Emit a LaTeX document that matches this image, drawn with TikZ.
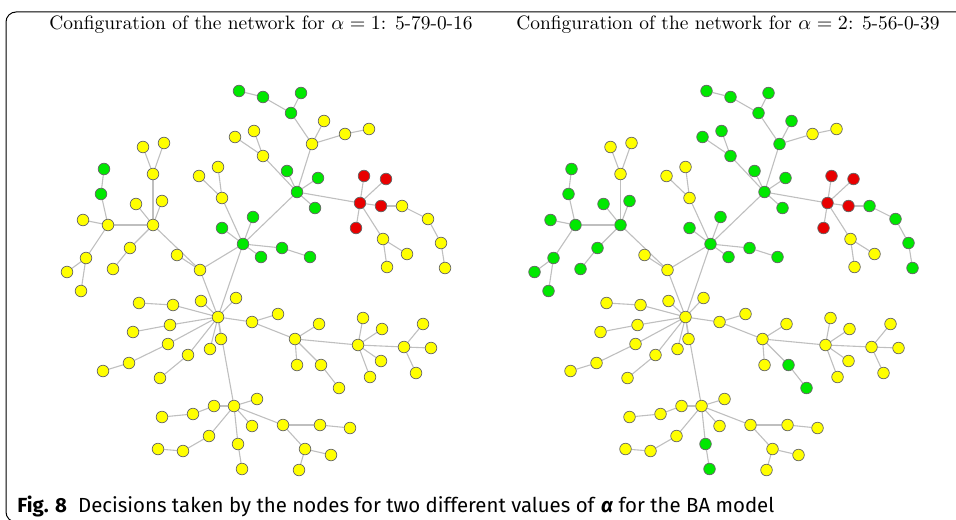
\documentclass[tikz,border=0pt]{standalone}
\usepackage{fontspec}
\newfontfamily\capfont{Fira Sans}
\usetikzlibrary{backgrounds}
\definecolor{cY}{RGB}{255,255,0}
\definecolor{cG}{RGB}{0,232,0}
\definecolor{cR}{RGB}{232,0,0}
\tikzset{
  vtx/.style={circle, draw=black!60, line width=0.35pt, minimum size=5.8pt, inner sep=0pt},
  link/.style={draw=black!25, line width=0.55pt},
  ttl/.style={font=\fontsize{9.7}{11}\selectfont, inner sep=0pt}
}
\begin{document}
\begin{tikzpicture}[x=0.5pt,y=-0.5pt]
\useasboundingbox (0,0) rectangle (956,519);
\draw[line width=0.5pt, rounded corners=5pt] (960,12) -- (6,12) -- (6,522) -- (24,522);
\node[ttl] (ttlA) at (261,25) {Configuration of the network for $\alpha=1$: 5-79-0-16};
\node[ttl] (ttlB) at (728,25) {Configuration of the network for $\alpha=2$: 5-56-0-39};
\node[anchor=base west, inner sep=0pt, font=\capfont\fontsize{10.2}{12}\selectfont] (cap) at (17,512)
  {\textbf{Fig. 8}\hspace{0.55em}Decisions taken by the nodes for two different values of \textbf{\textit{α}} for the BA model};
\foreach \n/\x/\y/\cl/\cr in {
  1/239/91/G/G, 2/263/97/G/G, 3/301/93/G/G, 4/291/113/G/G, 5/324/121/Y/G,
  6/312/144/Y/G, 7/345/134/Y/Y, 8/369/129/Y/Y, 9/235/137/Y/G, 10/254/131/Y/G,
  11/263/156/Y/G, 12/287/171/G/G, 13/318/178/G/G, 14/297/192/G/G, 15/315/208/G/G,
  16/253/217/G/G, 17/222/228/G/G, 18/243/244/G/G, 19/261/257/G/G, 20/282/248/G/G,
  21/310/257/G/G, 22/364/176/R/R, 23/386/179/R/R, 24/360/203/R/R, 25/381/206/R/R,
  26/356/228/R/R, 27/402/206/Y/G, 28/428/219/Y/G, 29/441/243/Y/G, 30/445/268/Y/G,
  31/383/239/Y/Y, 32/407/254/Y/Y, 33/387/267/Y/Y, 34/143/147/Y/Y, 35/164/143/Y/Y,
  36/153/174/Y/Y, 37/136/204/Y/G, 38/162/201/Y/G, 39/153/225/Y/G, 40/104/169/G/G,
  41/101/194/G/G, 42/83/220/Y/G, 43/108/225/Y/G, 44/130/248/Y/G, 45/113/269/Y/G,
  46/86/258/Y/G, 47/67/272/Y/G, 48/81/291/Y/G, 49/199/176/Y/Y, 50/218/167/Y/Y,
  51/222/198/Y/Y, 52/177/255/Y/Y, 53/200/270/Y/Y, 54/218/317/Y/Y, 55/236/298/Y/Y,
  56/201/301/Y/Y, 57/173/305/Y/Y, 58/139/303/Y/Y, 59/170/325/Y/Y, 60/133/332/Y/Y,
  61/168/344/Y/Y, 62/129/363/Y/Y, 63/103/371/Y/Y, 64/188/355/Y/Y, 65/160/378/Y/Y,
  66/210/349/Y/Y, 67/221/339/Y/Y, 68/252/322/Y/Y, 69/278/314/Y/Y, 70/295/339/Y/Y,
  71/319/324/Y/Y, 72/297/365/Y/Y, 73/321/365/Y/G, 74/339/388/Y/G, 75/358/345/Y/Y,
  76/363/318/Y/Y, 77/382/329/Y/Y, 78/381/361/Y/Y, 79/370/377/Y/Y, 80/404/347/Y/Y,
  81/423/324/Y/Y, 82/431/348/Y/Y, 83/416/373/Y/Y, 84/234/406/Y/Y, 85/257/399/Y/Y,
  86/214/406/Y/Y, 87/193/414/Y/Y, 88/162/417/Y/Y, 89/252/426/Y/Y, 90/209/436/Y/Y,
  91/183/451/Y/Y, 92/158/449/Y/Y, 93/238/444/Y/G, 94/242/469/Y/G, 95/283/425/Y/Y,
  96/320/425/Y/Y, 97/350/428/Y/Y, 98/305/449/Y/Y, 99/331/455/Y/Y, 100/299/470/Y/Y}
{
  \node[vtx, fill=c\cl] (L\n) at (\x,\y) {};
  \node[vtx, fill=c\cr] (R\n) at (\x+467.5,\y) {};
}
\begin{scope}[on background layer]
\foreach \a/\b in {
  1/2, 2/4, 3/4, 4/6, 5/6, 6/7, 7/8, 6/14, 9/11, 10/11, 11/14, 12/14, 13/14, 15/14,
  14/24, 22/24, 23/24, 25/24, 26/24, 24/31, 31/32, 31/33, 25/27, 27/28, 28/29, 29/30,
  14/18, 16/18, 17/18, 18/19, 18/20, 20/21, 51/18, 49/51, 50/51, 18/53, 52/53, 39/53,
  53/54, 18/54, 55/54, 56/54, 57/54, 58/57, 59/54, 60/59, 61/54, 62/61, 63/62, 64/54,
  65/64, 66/54, 67/54, 54/84, 54/68, 68/69, 68/70, 70/71, 70/72, 70/73, 73/74, 70/75,
  75/76, 75/77, 75/78, 75/79, 75/80, 80/81, 80/82, 80/83, 84/85, 84/86, 86/87, 87/88,
  84/89, 84/90, 90/91, 91/92, 84/93, 93/94, 84/95, 95/96, 96/97, 95/98, 98/99, 98/100,
  34/36, 35/36, 36/39, 37/39, 38/39, 39/43, 40/41, 41/43, 42/43, 43/46, 46/47, 46/48,
  44/39, 44/45}
{
  \draw[link] (L\a) -- (L\b);
  \draw[link] (R\a) -- (R\b);
}
\end{scope}
\end{tikzpicture}
\end{document}
